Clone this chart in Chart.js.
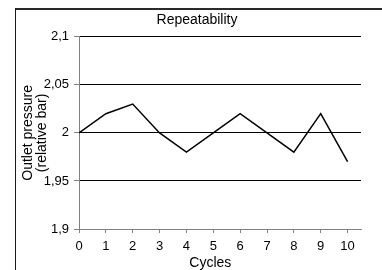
<!DOCTYPE html>
<html>
<head>
<meta charset="utf-8">
<script src="https://cdn.jsdelivr.net/npm/chart.js@4/dist/chart.umd.min.js"></script>
<style>
  html, body { margin: 0; padding: 0; background: #ffffff; }
  canvas { display: block; }
</style>
</head>
<body>
<canvas id="c" width="382" height="270"></canvas>
<script>
// ---- data ----
const cycles = [0, 1, 2, 3, 4, 5, 6, 7, 8, 9, 10];
const outletPressure = [2.00, 2.02, 2.03, 2.00, 1.98, 2.00, 2.02, 2.00, 1.98, 2.02, 1.97];
const yTicks = [1.9, 1.95, 2.0, 2.05, 2.1];
const yTickLabels = ['1,9', '1,95', '2', '2,05', '2,1'];
const xTickLabels = ['0', '1', '2', '3', '4', '5', '6', '7', '8', '9', '10'];
const chartTitle = 'Repeatability';
const yTitle = ['Outlet pressure', '(relative bar)'];
const xTitle = 'Cycles';

const FONT = 'Arial, "Liberation Sans", sans-serif';

const borderPlugin = {
  id: 'frame',
  afterDraw(chart) {
    const ctx = chart.ctx;
    ctx.save();
    ctx.fillStyle = '#2a2a2a';
    ctx.fillRect(15, 8, 382 - 15, 2);
    ctx.fillStyle = '#1a1a1a';
    ctx.fillRect(15, 8, 1, 270 - 8);
    ctx.restore();
  }
};

new Chart(document.getElementById('c'), {
  type: 'line',
  data: {
    datasets: [{
      data: cycles.map((c, i) => ({ x: c, y: outletPressure[i] })),
      borderColor: '#000000',
      borderWidth: 1.5,
      pointRadius: 0,
      tension: 0,
      fill: false
    }]
  },
  options: {
    responsive: false,
    animation: false,
    layout: { padding: { left: 12, right: 0, top: 0, bottom: 0 } },
    plugins: {
      legend: { display: false },
      tooltip: { enabled: false },
      title: {
        display: true,
        text: chartTitle,
        color: '#000000',
        font: { family: FONT, size: 14, weight: 'normal' },
        padding: { top: 12, bottom: 8 }
      }
    },
    scales: {
      x: {
        type: 'linear',
        min: 0,
        max: 10.5,
        afterBuildTicks(scale) { scale.ticks = cycles.map(v => ({ value: v })); },
        afterFit(scale) { scale.height = 41; },
        ticks: {
          color: '#000000',
          font: { family: FONT, size: 13 },
          padding: 6,
          maxRotation: 0,
          autoSkip: false,
          callback: (v, i) => xTickLabels[i]
        },
        grid: {
          drawOnChartArea: false,
          drawTicks: true,
          tickLength: 4,
          tickColor: '#808080'
        },
        border: { display: true, color: '#808080', width: 1 },
        title: {
          display: true,
          text: xTitle + '     ',
          color: '#000000',
          font: { family: FONT, size: 14, lineHeight: 1 },
          padding: { top: 0, bottom: 0 }
        }
      },
      y: {
        position: 'left',
        min: 1.9,
        max: 2.1,
        afterBuildTicks(scale) { scale.ticks = yTicks.map(v => ({ value: v })); },
        afterFit(scale) { scale.width = 67; },
        ticks: {
          color: '#000000',
          font: { family: FONT, size: 13 },
          padding: 5,
          callback: (v, i) => yTickLabels[i]
        },
        grid: {
          color: (ctx) => (ctx.tick && ctx.tick.value === 1.9) ? '#808080' : '#000000',
          lineWidth: 1,
          drawTicks: true,
          tickLength: 5,
          tickColor: '#808080'
        },
        border: { display: true, color: '#808080', width: 1 },
        title: {
          display: true,
          text: yTitle,
          color: '#000000',
          font: { family: FONT, size: 14, lineHeight: 1 },
          padding: { top: 9, bottom: 0 }
        }
      },
      yRight: {
        position: 'right',
        display: true,
        min: 1.9,
        max: 2.1,
        afterFit(scale) { scale.width = 21; },
        ticks: { display: false },
        grid: { display: false },
        border: { display: false },
        title: { display: false }
      }
    }
  },
  plugins: [borderPlugin]
});
</script>
</body>
</html>
